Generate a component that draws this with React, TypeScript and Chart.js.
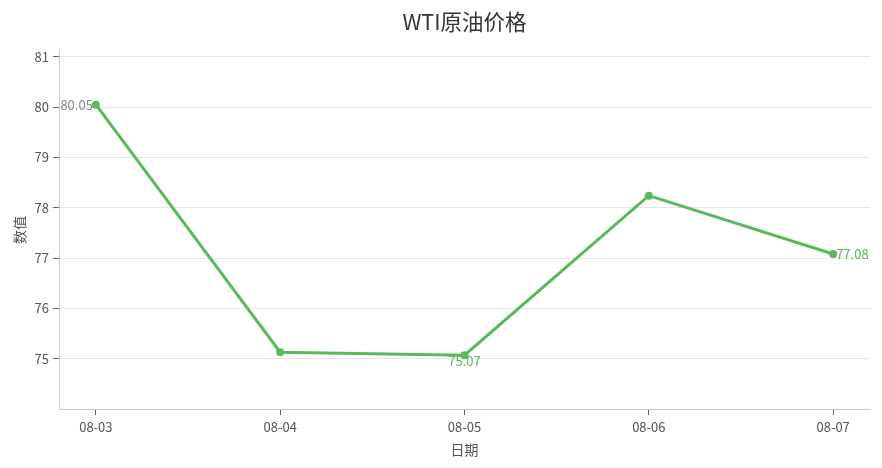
import React, { useEffect, useRef } from 'react';
import { Chart, registerables } from 'chart.js';

Chart.register(...registerables);

const dates = ['08-03', '08-04', '08-05', '08-06', '08-07'];
const prices = [80.05, 75.13, 75.07, 78.24, 77.08];
const yTicks = [75, 76, 77, 78, 79, 80, 81];

const GREEN = '#5cb85c';
const FONT = "'Noto Sans CJK SC', 'Noto Sans', sans-serif";

const pointLabels = {
  id: 'pointLabels',
  afterDatasetsDraw(chart: Chart) {
    const ctx = chart.ctx;
    const meta = chart.getDatasetMeta(0);
    const maxIdx = prices.indexOf(Math.max(...prices));
    const minIdx = prices.indexOf(Math.min(...prices));
    const lastIdx = prices.length - 1;
    ctx.save();
    ctx.font = `13px ${FONT}`;
    const draw = (i: number, color: string, align: CanvasTextAlign, dx: number, dy: number) => {
      const pt = meta.data[i];
      ctx.fillStyle = color;
      ctx.textAlign = align;
      ctx.textBaseline = 'middle';
      ctx.fillText(prices[i].toFixed(2), pt.x + dx, pt.y + dy);
    };
    draw(maxIdx, '#888888', 'right', -3, 0);
    draw(minIdx, GREEN, 'center', 0, 6);
    draw(lastIdx, GREEN, 'left', 3, 0);
    ctx.restore();
  },
};

export default function App() {
  const canvasRef = useRef<HTMLCanvasElement>(null);
  const chartRef = useRef<Chart>();

  useEffect(() => {
    document.body.style.margin = '0';
    if (!canvasRef.current) return;
    const ctx = canvasRef.current.getContext('2d');
    if (!ctx) return;

    chartRef.current = new Chart(ctx, {
      type: 'line',
      data: {
        datasets: [
          {
            label: 'WTI',
            data: prices.map((v, i) => ({ x: i, y: v })),
            borderColor: GREEN,
            backgroundColor: GREEN,
            borderWidth: 3,
            pointRadius: 4,
            pointBackgroundColor: GREEN,
            pointBorderColor: GREEN,
            pointBorderWidth: 0,
            tension: 0,
          },
        ],
      },
      options: {
        animation: false,
        responsive: true,
        maintainAspectRatio: false,
        layout: { padding: { left: 0, right: 12, top: 0, bottom: 0 } },
        plugins: {
          legend: { display: false },
          tooltip: { enabled: false },
          title: {
            display: true,
            fullSize: false,
            text: 'WTI原油价格',
            color: '#333333',
            font: { family: FONT, size: 21.5, weight: 'normal' },
            padding: { top: 9, bottom: 16 },
          },
        },
        scales: {
          x: {
            type: 'linear',
            min: -0.2,
            max: 4.2,
            afterBuildTicks: (scale) => {
              scale.ticks = dates.map((_, i) => ({ value: i }));
            },
            afterFit: (scale) => {
              scale.height = 59;
            },
            ticks: {
              color: '#555555',
              font: { family: FONT, size: 13 },
              padding: 4,
              maxRotation: 0,
              callback: (v) => dates[Number(v)] ?? '',
            },
            grid: {
              drawOnChartArea: false,
              tickLength: 6,
              tickColor: '#666666',
            },
            border: { color: '#cccccc', width: 1 },
            title: {
              display: true,
              text: '日期',
              color: '#555555',
              font: { family: FONT, size: 14 },
              padding: { top: 0, bottom: 10 },
            },
          },
          y: {
            min: 74.0,
            max: 81.12,
            afterBuildTicks: (scale) => {
              scale.ticks = yTicks.map((v) => ({ value: v }));
            },
            afterFit: (scale) => {
              scale.width = 59;
            },
            ticks: {
              color: '#555555',
              font: { family: FONT, size: 13 },
              padding: 4,
            },
            grid: {
              color: '#e6e6e6',
              tickLength: 6,
              tickColor: '#666666',
            },
            border: { color: '#cccccc', width: 1 },
            title: {
              display: true,
              text: '数值',
              color: '#555555',
              font: { family: FONT, size: 14 },
              padding: { top: 11, bottom: 0 },
            },
          },
        },
      },
      plugins: [pointLabels],
    });

    return () => {
      chartRef.current?.destroy();
    };
  }, []);

  return (
    <div style={{ width: 882, height: 468, position: 'relative' }}>
      <canvas ref={canvasRef} />
    </div>
  );
}
